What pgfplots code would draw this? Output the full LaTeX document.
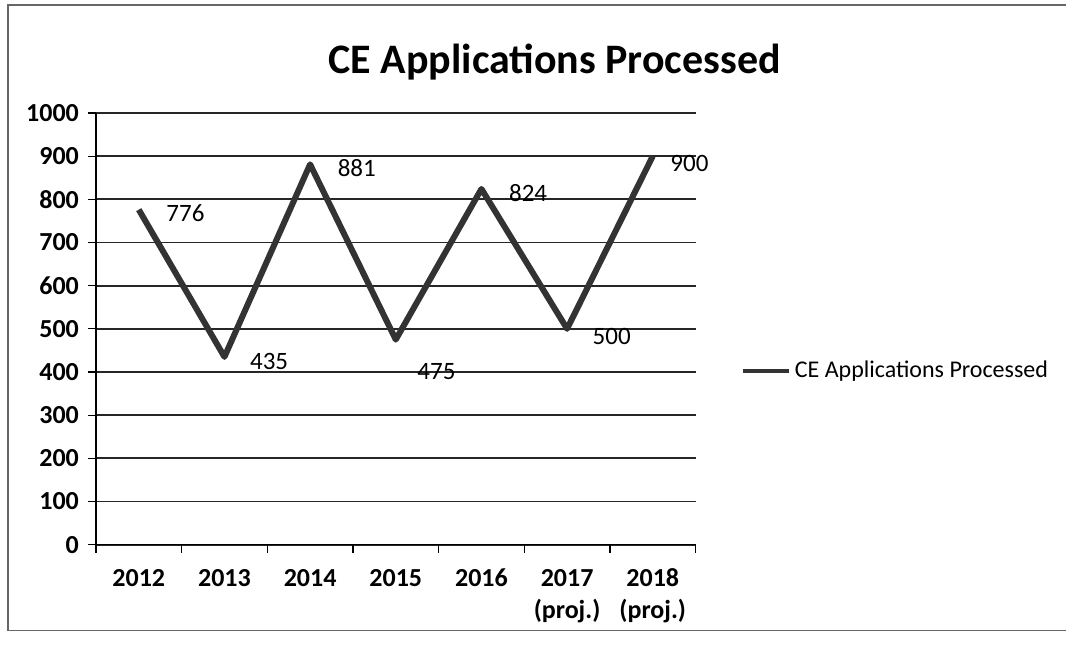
\documentclass[border=0pt]{standalone}
\usepackage{pgfplots}
\pgfplotsset{compat=1.18}
\usepackage{pgfplotstable}
\usepackage{fontspec}
\setmainfont{Carlito}

% year index, processed count, label shifts (pt)
\pgfplotstableread{
x y dx dy
0 776 9 -2
1 435 8 -2.5
2 881 9 -2
3 475 6 -16
4 824 9 -2
5 500 8 -4
6 900 4 -3.5
}\apps

\begin{document}
\begin{tikzpicture}
\begin{axis}[
    scale only axis,
    width=300pt, height=216pt,
    /pgf/number format/assume math mode=true,
    /pgf/number format/1000 sep={},
    xmin=-0.5, xmax=6.5,
    ymin=0, ymax=1000,
    ytick={0,100,...,1000},
    xtick={0,...,6},
    xticklabels={\strut 2012,\strut 2013,\strut 2014,\strut 2015,\strut 2016,
        {\strut 2017\\(proj.)},{\strut 2018\\(proj.)}},
    xticklabel style={align=center, font=\bfseries\fontsize{13}{16}\selectfont, yshift=-2pt},
    yticklabel style={font=\bfseries\fontsize{13}{14}\selectfont, xshift=-1pt},
    minor xtick={-0.5,0.5,...,6.5},
    major x tick style={draw=none},
    minor tick length=4pt,
    major tick length=4pt,
    tick align=outside,
    tick style={black, line width=0.6pt},
    axis x line*=bottom,
    axis y line*=left,
    axis line style={black, line width=0.8pt},
    ymajorgrids,
    grid style={black!85, line width=0.9pt},
    legend style={at={(1.075,0.403)}, anchor=west, draw=none, fill=none,
        font=\fontsize{12}{13}\selectfont, inner sep=0pt},
    legend image code/.code={\draw[#1, line width=2pt] (0pt,0pt) -- (23pt,0pt);},
    clip=false,
]
\addplot[black!80, line width=3pt, line join=round,
    nodes near coords,
    visualization depends on={\thisrow{dx} \as \dx},
    visualization depends on={\thisrow{dy} \as \dy},
    every node near coord/.append style={anchor=west, xshift=\dx pt, yshift=\dy pt,
        black, font=\fontsize{12.5}{13}\selectfont}]
    table[x=x, y=y] {\apps};
\addlegendentry{CE Applications Processed}
\end{axis}
\node[font=\bfseries\fontsize{21}{25}\selectfont] at (229.5pt,241.5pt) {CE Applications Processed};
\draw[black!60, line width=0.6pt] (-44pt,-43pt) -- (485.5pt,-43pt);
\draw[black!60, line width=0.6pt] (-44pt,-43pt) -- (-44pt,270pt) -- (485.5pt,270pt);
\path (-48pt,-50pt) rectangle (485.5pt,272.5pt);
\end{tikzpicture}
\end{document}
